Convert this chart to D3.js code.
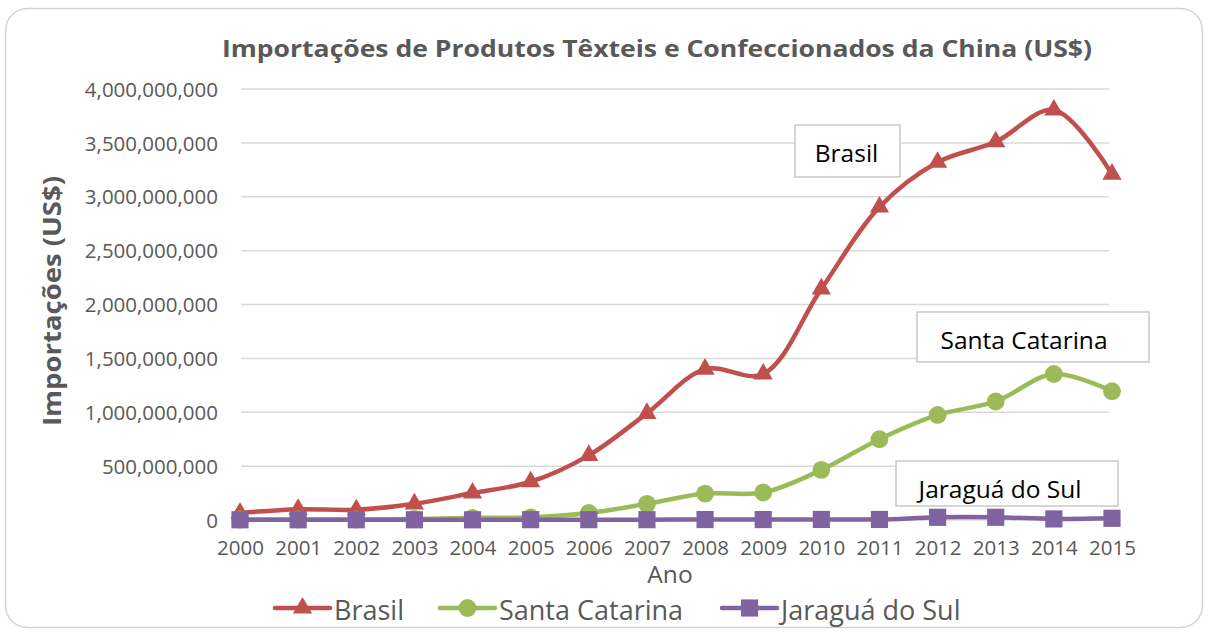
<!DOCTYPE html>
<html><head><meta charset="utf-8">
<script src="https://cdn.jsdelivr.net/npm/d3@7"></script>
<style>body{margin:0;background:#fff}svg{display:block}</style>
</head><body>
<svg id="c" width="1208" height="632"></svg>
<script>
const years = ["2000","2001","2002","2003","2004","2005","2006","2007","2008","2009","2010","2011","2012","2013","2014","2015"];
const brasil = [65e6,100e6,95e6,150e6,250e6,355e6,600e6,990e6,1400e6,1355e6,2145e6,2905e6,3320e6,3510e6,3805e6,3210e6];
const santaCatarina = [5e6,5e6,5e6,10e6,20e6,25e6,65e6,150e6,245e6,255e6,465e6,750e6,975e6,1100e6,1355e6,1195e6];
const jaragua = [2e6,2e6,2e6,2e6,2e6,3e6,3e6,3e6,4e6,4e6,5e6,5e6,25e6,25e6,10e6,16e6];
const yTicks = [0,500e6,1000e6,1500e6,2000e6,2500e6,3000e6,3500e6,4000e6];
const seriesNames = ["Brasil","Santa Catarina","Jaraguá do Sul"];
const title = "Importações de Produtos Têxteis e Confeccionados da China (US$)";
const yTitle = "Importações (US$)";
const xTitle = "Ano";

const colors = ["#C0504D","#9BBB59","#8064A2"];
const svg = d3.select("#c");
const font = "'Open Sans', sans-serif";

svg.append("rect").attr("x",5.5).attr("y",8.5).attr("width",1197).attr("height",619)
  .attr("rx",22).attr("fill","#fff").attr("stroke","#D4D4D4").attr("stroke-width",1.5);

const x = d3.scalePoint().domain(years).range([240,1112]);
const y = d3.scaleLinear().domain([0,4e9]).range([520,89]);

// gridlines
svg.append("g").selectAll("line").data(yTicks).join("line")
  .attr("x1",241).attr("x2",1109).attr("y1",d=>y(d)).attr("y2",d=>y(d))
  .attr("stroke","#D9D9D9").attr("stroke-width",1.5);

// y axis labels
const yAxis = d3.axisLeft(y).tickValues(yTicks).tickSize(0).tickPadding(0)
  .tickFormat(d=>d3.format(",")(d));
const gy = svg.append("g").attr("transform","translate(218,0)").call(yAxis);
gy.select(".domain").remove();
gy.selectAll("text").attr("font-family",font).attr("font-size",20.5).attr("fill","#595959").attr("dy","0.35em");

// x axis labels
const xAxis = d3.axisBottom(x).tickSize(0).tickPadding(0);
const gx = svg.append("g").attr("transform","translate(0,540)").call(xAxis);
gx.select(".domain").remove();
gx.selectAll("text").attr("font-family",font).attr("font-size",20.5).attr("fill","#595959").attr("dy","0.71em");

// titles
svg.append("text").attr("x",657).attr("y",57).attr("text-anchor","middle")
  .attr("font-family",font).attr("font-weight","bold").attr("font-size",24).attr("fill","#595959")
  .attr("textLength",870).attr("lengthAdjust","spacingAndGlyphs").text(title);
svg.append("text").attr("transform","translate(61,301) rotate(-90)").attr("text-anchor","middle")
  .attr("font-family",font).attr("font-weight","bold").attr("font-size",25).attr("fill","#595959")
  .attr("textLength",250).attr("lengthAdjust","spacingAndGlyphs").text(yTitle);
svg.append("text").attr("x",670).attr("y",583).attr("text-anchor","middle")
  .attr("font-family",font).attr("font-size",24.5).attr("fill","#595959").text(xTitle);

const data = [brasil, santaCatarina, jaragua];
const line = d3.line().x((d,i)=>x(years[i])).y(d=>y(d)).curve(d3.curveCatmullRom.alpha(0.5));

const tri = d3.symbol().type(d3.symbolTriangle).size(160);
const circ = d3.symbol().type(d3.symbolCircle).size(250);
const sq = d3.symbol().type(d3.symbolSquare).size(295);
const syms = [tri, circ, sq];

data.forEach((vals,k)=>{
  const g = svg.append("g");
  g.append("path").attr("d",line(vals)).attr("fill","none").attr("stroke",colors[k]).attr("stroke-width",4.5)
    .attr("stroke-linejoin","round").attr("stroke-linecap","round");
  g.selectAll("path.m").data(vals).join("path").attr("class","m")
    .attr("transform",(d,i)=>`translate(${x(years[i])},${y(d)})`)
    .attr("d",syms[k]()).attr("fill",colors[k]);
});

// data label boxes
const labels = [
  {t:"Brasil", x0:795, y0:125, w:105, h:52, cx:846.5, cy:153},
  {t:"Santa Catarina", x0:917, y0:312, w:232, h:50, cx:1024, cy:340.5},
  {t:"Jaraguá do Sul", x0:896, y0:461, w:222, h:45, cx:1000, cy:489}
];
labels.forEach(l=>{
  svg.append("rect").attr("x",l.x0).attr("y",l.y0).attr("width",l.w).attr("height",l.h)
    .attr("fill","#fff").attr("stroke","#C8C8C8").attr("stroke-width",1.5);
  svg.append("text").attr("x",l.cx).attr("y",l.cy).attr("dy","0.36em").attr("text-anchor","middle")
    .attr("font-family",font).attr("font-size",24.5).attr("fill","#000").text(l.t);
});

// legend
const legX = [275, 440, 722];
seriesNames.forEach((n,k)=>{
  const g = svg.append("g").attr("transform",`translate(${legX[k]},608)`);
  g.append("line").attr("x1",0).attr("x2",55).attr("stroke",colors[k]).attr("stroke-width",4.5).attr("stroke-linecap","round");
  g.append("path").attr("transform","translate(27.5,0)").attr("d",syms[k]()).attr("fill",colors[k]);
  g.append("text").attr("x",59).attr("y",11.5).attr("font-family",font).attr("font-size",27).attr("fill","#595959").text(n);
});
</script>
</body></html>
